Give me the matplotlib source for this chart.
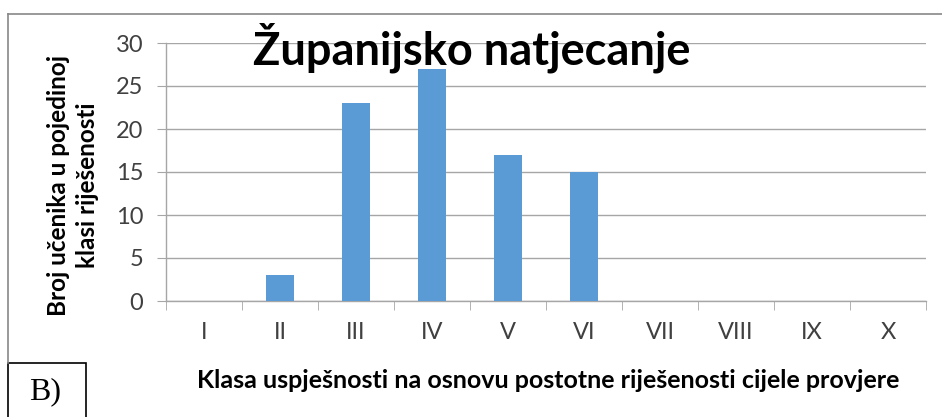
import numpy as np
import matplotlib.pyplot as plt
from matplotlib.patches import Rectangle
from matplotlib.lines import Line2D

# broj učenika po klasi uspješnosti
klase = ['I', 'II', 'III', 'IV', 'V', 'VI', 'VII', 'VIII', 'IX', 'X']
ucenici = [0, 3, 23, 27, 17, 15, 0, 0, 0, 0]
yticks = [0, 5, 10, 15, 20, 25, 30]

plt.rcParams['font.family'] = ['Lato', 'DejaVu Sans']

fig = plt.figure(figsize=(9.42, 4.17), dpi=100)
ax = fig.add_axes([166/942, 116/417, 760/942, 258/417])

x = np.arange(len(klase))
ax.bar(x, ucenici, width=0.37, color='#5B9BD5', zorder=3)

ax.set_xlim(-0.5, len(klase) - 0.5)
ax.set_ylim(0, 30)
ax.set_yticks(yticks)
ax.set_xticks(x)
ax.set_xticklabels(klase)
ax.set_xticks(np.arange(len(klase) + 1) - 0.5, minor=True)

ax.grid(axis='y', color='#A6A6A6', linewidth=1, zorder=0)
for s in ['top', 'right']:
    ax.spines[s].set_visible(False)
for s in ['left', 'bottom']:
    ax.spines[s].set_color('#A6A6A6')
    ax.spines[s].set_linewidth(1)

ax.tick_params(axis='y', length=6.5, color='#A6A6A6', labelsize=17, labelcolor='#404040', pad=10)
ax.tick_params(axis='x', which='major', length=0, labelsize=17, labelcolor='#404040', pad=15)
ax.tick_params(axis='x', which='minor', length=6.5, color='#A6A6A6')

fig.text(73/942, 1 - 185/417, 'Broj učenika u pojedinoj\nklasi riješenosti', fontsize=17.5,
         fontweight='bold', rotation=90, ha='center', va='center', linespacing=1.3)
fig.text(548/942, 1 - 381/417, 'Klasa uspješnosti na osnovu postotne riješenosti cijele provjere',
         fontsize=18, fontweight='bold', ha='center', va='center')

fig.text(472/942, 1 - 48/417, 'Županijsko natjecanje', fontsize=32.5, fontweight='bold',
         ha='center', va='center')

# okvir grafikona
fig.add_artist(Line2D([8/942, 1], [1 - 14/417] * 2, color='#888888', lw=1.2))
fig.add_artist(Line2D([8/942] * 2, [1 - 14/417, 1 - 363/417], color='#888888', lw=1.2))

# oznaka B)
fig.add_artist(Rectangle((8/942, -0.01), 78/942, 54/417 + 0.01, fill=False,
                         edgecolor='black', lw=1.2, transform=fig.transFigure))
fig.text(45/942, 1 - 392/417, 'B)', fontsize=23, family='Liberation Serif',
         ha='center', va='center')

fig.savefig('out.png', dpi=100)
